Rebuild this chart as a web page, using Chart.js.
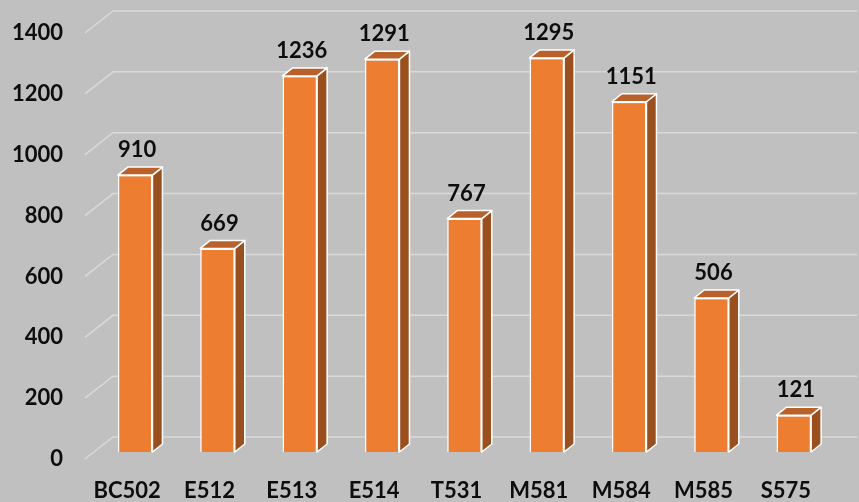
<!DOCTYPE html>
<html>
<head>
<meta charset="utf-8">
<script src="https://cdn.jsdelivr.net/npm/chart.js@4"></script>
<style>
  html, body { margin: 0; padding: 0; background: #c0c0c0; }
  #wrap { width: 859px; height: 502px; position: relative; }
</style>
</head>
<body>
<div id="wrap"><canvas id="grafico"></canvas></div>
<script>
const categorias = ['BC502', 'E512', 'E513', 'E514', 'T531', 'M581', 'M584', 'M585', 'S575'];
const valores = [910, 669, 1236, 1291, 767, 1295, 1151, 506, 121];
const ticksY = [0, 200, 400, 600, 800, 1000, 1200, 1400];

const fonte = { family: 'Lato', weight: 'bold', size: 22 };
const profX = 10, profY = 8;        // depth of each bar
const frenteX = -9, frenteY = 7;    // offset to front plane
const fundoX = 19, fundoY = -15;    // offset to back wall

const grade3d = {
  id: 'grade3d',
  beforeDatasetsDraw(chart) {
    const { ctx, chartArea, scales } = chart;
    ctx.save();
    ctx.strokeStyle = '#d9d9d9';
    ctx.lineWidth = 1.5;
    ticksY.forEach(v => {
      const y = scales.y.getPixelForValue(v);
      ctx.beginPath();
      ctx.moveTo(chartArea.left + frenteX, y + frenteY);
      ctx.lineTo(chartArea.left + fundoX, y + fundoY);
      ctx.lineTo(chartArea.right + fundoX + 3, y + fundoY);
      ctx.stroke();
    });
    ctx.restore();
  },
  afterDatasetsDraw(chart) {
    const { ctx } = chart;
    const meta = chart.getDatasetMeta(0);
    ctx.save();
    ctx.strokeStyle = '#ffffff';
    ctx.lineWidth = 1.5;
    ctx.lineJoin = 'round';
    meta.data.forEach((bar, i) => {
      const p = bar.getProps(['x', 'y', 'base', 'width'], true);
      const l = p.x - p.width / 2, r = p.x + p.width / 2;
      // side
      ctx.beginPath();
      ctx.moveTo(r, p.y);
      ctx.lineTo(r + profX, p.y - profY);
      ctx.lineTo(r + profX, p.base - profY);
      ctx.lineTo(r, p.base);
      ctx.closePath();
      ctx.fillStyle = '#9a4f1f';
      ctx.fill();
      ctx.stroke();
      // top
      ctx.beginPath();
      ctx.moveTo(l, p.y);
      ctx.lineTo(l + profX, p.y - profY);
      ctx.lineTo(r + profX, p.y - profY);
      ctx.lineTo(r, p.y);
      ctx.closePath();
      ctx.fillStyle = '#b8612a';
      ctx.fill();
      ctx.stroke();
      // value
      ctx.fillStyle = '#0d0d0d';
      ctx.font = 'bold 22px Lato';
      ctx.textAlign = 'center';
      ctx.textBaseline = 'middle';
      ctx.fillText(String(valores[i]), p.x + 2, p.y - 25);
    });
    ctx.restore();
  }
};

new Chart(document.getElementById('grafico'), {
  type: 'bar',
  data: {
    labels: categorias,
    datasets: [{
      data: valores,
      backgroundColor: '#ed7d31',
      borderColor: '#ffffff',
      borderWidth: 1.5,
      barPercentage: 0.42,
      categoryPercentage: 1
    }]
  },
  options: {
    responsive: true,
    maintainAspectRatio: false,
    animation: false,
    layout: { padding: { top: 26, right: 24, left: 0, bottom: 0 } },
    plugins: { legend: { display: false }, tooltip: { enabled: false } },
    scales: {
      x: {
        grid: { display: false },
        border: { display: false },
        ticks: { color: '#0d0d0d', font: fonte, padding: 18, labelOffset: -8, maxRotation: 0 },
        afterFit(s) { s.height = 50; s.paddingLeft = 0; s.paddingRight = 0; }
      },
      y: {
        min: 0,
        max: 1400,
        grid: { display: false, drawTicks: false },
        border: { display: false },
        afterBuildTicks(s) { s.ticks = ticksY.map(v => ({ value: v })); },
        ticks: { color: '#0d0d0d', font: fonte, padding: 31, labelOffset: 7, callback: v => String(v) },
        afterFit(s) { s.width = 94; s.paddingTop = 0; s.paddingBottom = 0; }
      }
    }
  },
  plugins: [grade3d]
});
</script>
</body>
</html>
